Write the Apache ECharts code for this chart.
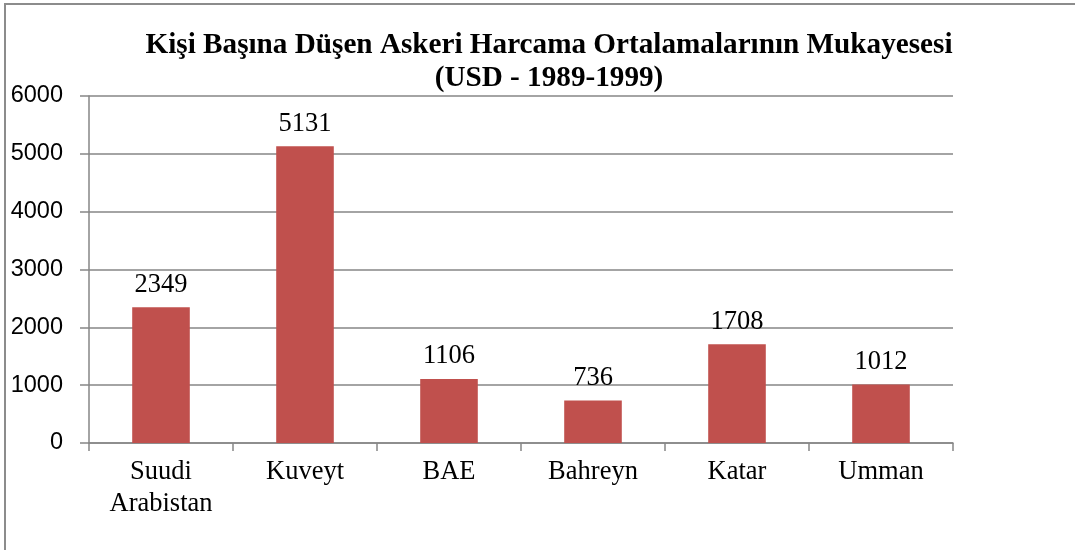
<!DOCTYPE html>
<html lang="tr">
<head>
  <meta charset="UTF-8">
  <title>Kişi Başına Düşen Askeri Harcama</title>
  <script src="https://cdn.jsdelivr.net/npm/echarts@6/dist/echarts.min.js"></script>
  <style>
    html, body { margin: 0; padding: 0; background: #fff; }
    #frame { position: absolute; left: 4px; top: 3px; width: 1100px; height: 600px;
             border-left: 2px solid #8c8c8c; border-top: 2px solid #8c8c8c; pointer-events: none; }
  </style>
</head>
<body>
<div id="chart" style="width: 1075px; height: 550px"></div>
<div id="frame"></div>
<script>
  const countries = ['Suudi\nArabistan', 'Kuveyt', 'BAE', 'Bahreyn', 'Katar', 'Umman'];
  const spending = [2349, 5131, 1106, 736, 1708, 1012];
  const yTicks = [0, 1000, 2000, 3000, 4000, 5000, 6000];

  const serif = '"Liberation Serif", "Times New Roman", serif';
  const sans = '"Liberation Sans", Arial, sans-serif';
  const gray = '#868686';

  const chart = echarts.init(document.getElementById('chart'));
  chart.setOption({
    animation: false,
    title: {
      text: 'Kişi Başına Düşen Askeri Harcama Ortalamalarının Mukayesesi\n(USD - 1989-1999)',
      left: 544,
      top: 24,
      textAlign: 'center',
      textStyle: {
        fontFamily: serif,
        fontWeight: 'bold',
        fontSize: 29.2,
        lineHeight: 33,
        color: '#000'
      }
    },
    grid: { left: 89, right: 122, top: 96, bottom: 107 },
    xAxis: {
      type: 'category',
      data: countries,
      axisLine: { lineStyle: { color: gray, width: 1.5 } },
      axisTick: { show: true, length: 8, lineStyle: { color: gray, width: 1.5 } },
      axisLabel: {
        margin: 13,
        fontFamily: serif,
        fontSize: 26.5,
        lineHeight: 32,
        color: '#000'
      }
    },
    yAxis: {
      type: 'value',
      min: yTicks[0],
      max: yTicks[yTicks.length - 1],
      interval: 1000,
      axisLine: { show: true, lineStyle: { color: gray, width: 1.5 } },
      axisTick: { show: true, length: 9, lineStyle: { color: gray, width: 1.5 } },
      splitLine: { lineStyle: { color: gray, width: 1.5 } },
      axisLabel: {
        margin: 26,
        fontFamily: sans,
        fontSize: 23.5,
        color: '#000',
        formatter: v => String(v)
      }
    },
    series: [{
      type: 'bar',
      data: spending,
      barWidth: '40%',
      itemStyle: { color: '#C0504D' },
      label: {
        show: true,
        position: 'top',
        distance: 9,
        fontFamily: serif,
        fontSize: 26.5,
        color: '#000'
      }
    }]
  });
</script>
</body>
</html>
